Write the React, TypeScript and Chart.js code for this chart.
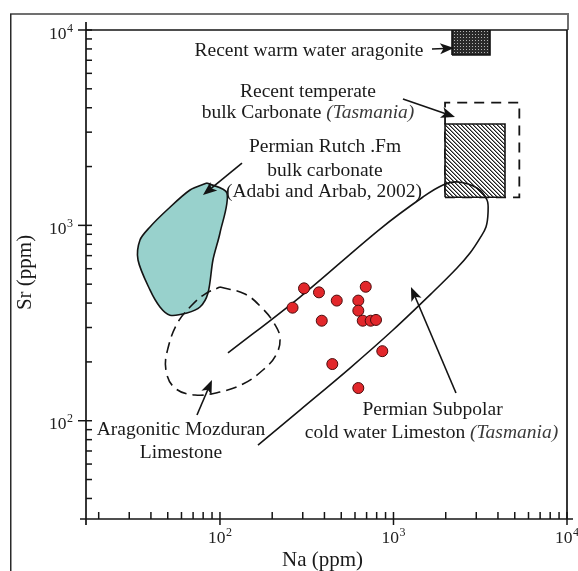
import React, { useEffect, useRef } from "react";
import { Chart, registerables } from "chart.js";

Chart.register(...registerables);

// ---------- axes ----------
const naRange = [16.9, 10000];
const srRange = [31.4, 10000];
const majorValues = [100, 1000, 10000];
const majorExponents = ["2", "3", "4"];
const xTitle = "Na (ppm)";
const yTitle = "Sr (ppm)";

// ---------- samples (red dots) ----------
const sampleNa = [305, 372, 262, 471, 692, 627, 627, 386, 665, 739, 793, 862, 444, 627];
const sampleSr = [476, 454, 379, 412, 485, 412, 366, 325, 325, 325, 328, 227, 195, 147];

// ---------- Permian Rutch Fm bulk carbonate field ----------
const rutchNa = [84.2, 109.7, 100, 91.1, 85.3, 76.7, 64.5, 51.5, 45.1, 39.5, 33.7, 34.6, 39.5, 49.5, 67.2, 84.2];
const rutchSr = [1648, 1465, 914, 665, 451, 382, 356, 347, 382, 467, 665, 841, 981, 1198, 1517, 1648];

// ---------- Aragonitic Mozduran Limestone field ----------
const mozNa = [100, 139.4, 174.7, 204.8, 221.8, 210.3, 176.9, 135.7, 100, 71.8, 55.0, 48.8, 50.2, 57.3, 69.0, 81.9, 100];
const mozSr = [483.5, 445, 377.5, 316.3, 265, 217, 181.8, 154.1, 140.3, 135.4, 147, 181.8, 235.6, 320, 391, 445, 483.5];

// ---------- Permian Subpolar cold water limestone (Tasmania) field ----------
const tasNa = [111.2, 289.1, 836.1, 1479, 1929, 2353, 3029, 3459, 3506, 3413, 3152, 2761, 2323, 1689, 993.6, 561.5, 289.1, 165.6];
const tasSr = [222.2, 429.8, 957.9, 1397, 1609, 1667, 1553, 1348, 1157, 981, 861, 722, 605, 456, 291.3, 186.1, 113.4, 75.1];

// ---------- boxes ----------
const warmBoxNa = [2174, 3600];
const warmBoxSr = [7447, 10000];
const hatchBoxNa = [1982, 4392];
const hatchBoxSr = [1392, 3303];
const dashBoxNa = [1982, 5312];
const dashBoxSr = [1392, 4244];

// ---------- annotation texts (anchor: centre x, baseline) ----------
const noteTexts = [
  [{ t: "Recent warm water aragonite", i: false }],
  [{ t: "Recent temperate", i: false }],
  [{ t: "bulk Carbonate ", i: false }, { t: "(Tasmania)", i: true }],
  [{ t: "Permian Rutch .Fm", i: false }],
  [{ t: "bulk carbonate", i: false }],
  [{ t: "(Adabi and Arbab, 2002)", i: false }],
  [{ t: "Aragonitic Mozduran", i: false }],
  [{ t: "Limestone", i: false }],
  [{ t: "Permian Subpolar", i: false }],
  [{ t: "cold water Limeston ", i: false }, { t: "(Tasmania)", i: true }],
];
const noteNa = [325.8, 321.5, 321.5, 402.9, 402.9, 397.6, 59.6, 59.6, 1679, 1656];
const noteSr = [7362, 4557, 3532, 2382, 1796, 1397, 84.5, 64.2, 107, 81.3];

// ---------- arrows ----------
const arrowFromNa = [1667, 1134, 133.9, 73.7, 2292];
const arrowFromSr = [7992, 4435, 2085, 107, 138.6];
const arrowToNa = [2233, 2262, 79.8, 89.9, 1261];
const arrowToSr = [8088, 3585, 1430, 161.6, 483.5];

const SERIF = "'Liberation Serif', 'Times New Roman', serif";
const INK = "#141414";

const xy = (xs: number[], ys: number[]) => xs.map((x, i) => ({ x, y: ys[i] }));
const rect = (xs: number[], ys: number[]) => [
  { x: xs[0], y: ys[0] },
  { x: xs[1], y: ys[0] },
  { x: xs[1], y: ys[1] },
  { x: xs[0], y: ys[1] },
  { x: xs[0], y: ys[0] },
];

function logTicks(min: number, max: number) {
  const out: { v: number; major: boolean }[] = [];
  for (let e = Math.floor(Math.log10(min)); e <= Math.ceil(Math.log10(max)); e++) {
    for (let m = 1; m <= 9; m++) {
      const v = m * Math.pow(10, e);
      if (v >= min * 0.999 && v <= max * 1.001) out.push({ v, major: m === 1 });
    }
  }
  return out;
}

function makeHatch() {
  const c = document.createElement("canvas");
  c.width = 4;
  c.height = 4;
  const g = c.getContext("2d")!;
  g.fillStyle = "#ffffff";
  g.fillRect(0, 0, 4, 4);
  for (let i = 0; i < 4; i++)
    for (let j = 0; j < 4; j++) {
      const d = (((i - j) % 4) + 4) % 4;
      if (d === 0) {
        g.fillStyle = "#1e1e1e";
        g.fillRect(i, j, 1, 1);
      } else if (d === 1) {
        g.fillStyle = "#8c8c8c";
        g.fillRect(i, j, 1, 1);
      }
    }
  return g.createPattern(c, "repeat");
}

function makeDots() {
  const c = document.createElement("canvas");
  c.width = 3;
  c.height = 3;
  const g = c.getContext("2d")!;
  g.fillStyle = "#2a2a2a";
  g.fillRect(0, 0, 3, 3);
  g.fillStyle = "#b5b5b5";
  g.fillRect(1, 1, 1, 1);
  return g.createPattern(c, "repeat");
}

const decorPlugin = {
  id: "decor",
  beforeDatasetsDraw(chart: any) {
    const ctx: CanvasRenderingContext2D = chart.ctx;
    const { left, right, top, bottom } = chart.chartArea;
    const xs = chart.scales.x;
    const ys = chart.scales.y;
    ctx.save();
    // outer frame
    ctx.strokeStyle = "#707070";
    ctx.lineWidth = 2;
    ctx.beginPath();
    ctx.moveTo(10, 14);
    ctx.lineTo(right + 1, 14);
    ctx.lineTo(right + 1, top);
    ctx.stroke();
    ctx.strokeStyle = "#2a2a2a";
    ctx.lineWidth = 1.5;
    ctx.beginPath();
    ctx.moveTo(10.75, 14);
    ctx.lineTo(10.75, 571);
    ctx.stroke();

    // plot box
    ctx.strokeStyle = INK;
    ctx.lineWidth = 1.7;
    ctx.beginPath();
    ctx.moveTo(left, top);
    ctx.lineTo(right, top);
    ctx.lineTo(right, bottom);
    ctx.stroke();
    ctx.beginPath();
    ctx.moveTo(left, top - 8);
    ctx.lineTo(left, bottom + 6);
    ctx.stroke();
    ctx.beginPath();
    ctx.moveTo(left - 6, bottom);
    ctx.lineTo(right + 6, bottom);
    ctx.stroke();

    // ticks
    ctx.lineWidth = 1.5;
    for (const t of logTicks(naRange[0], naRange[1])) {
      const px = xs.getPixelForValue(t.v);
      ctx.beginPath();
      ctx.moveTo(px, bottom + (t.major ? 6 : 0));
      ctx.lineTo(px, bottom - 7);
      ctx.stroke();
    }
    for (const t of logTicks(srRange[0], srRange[1])) {
      const py = ys.getPixelForValue(t.v);
      ctx.beginPath();
      ctx.moveTo(left - (t.major ? 8 : 0), py);
      ctx.lineTo(left + 6, py);
      ctx.stroke();
    }

    // tick labels
    ctx.fillStyle = "#222";
    ctx.textBaseline = "alphabetic";
    ctx.textAlign = "left";
    const bigF = `17.5px ${SERIF}`;
    const supF = `12px ${SERIF}`;
    majorValues.forEach((v, i) => {
      ctx.font = bigF;
      const w10 = ctx.measureText("10").width;
      ctx.font = supF;
      const wE = ctx.measureText(majorExponents[i]).width;
      // x axis
      const px = xs.getPixelForValue(v);
      const lx = px - 12;
      ctx.font = bigF;
      ctx.fillText("10", lx, bottom + 24);
      ctx.font = supF;
      ctx.fillText(majorExponents[i], lx + w10 + 0.5, bottom + 17);
      // y axis
      const py = ys.getPixelForValue(v);
      const ly = left - 13 - (w10 + wE + 0.5);
      ctx.font = bigF;
      ctx.fillText("10", ly, py + 8.5);
      ctx.font = supF;
      ctx.fillText(majorExponents[i], ly + w10 + 0.5, py + 1.5);
    });

    // axis titles
    ctx.font = `21px ${SERIF}`;
    ctx.fillStyle = "#1a1a1a";
    ctx.textAlign = "center";
    ctx.fillText(xTitle, (left + right) / 2 - 4, 566);
    ctx.save();
    ctx.translate(31, (top + bottom) / 2 - 2);
    ctx.rotate(-Math.PI / 2);
    ctx.fillText(yTitle, 0, 0);
    ctx.restore();
    ctx.restore();
  },
  afterDatasetsDraw(chart: any) {
    const ctx: CanvasRenderingContext2D = chart.ctx;
    const xs = chart.scales.x;
    const ys = chart.scales.y;
    ctx.save();
    // texts
    ctx.fillStyle = "#1a1a1a";
    ctx.textBaseline = "alphabetic";
    ctx.textAlign = "left";
    const fN = `19.5px ${SERIF}`;
    const fI = `italic 19.5px ${SERIF}`;
    noteTexts.forEach((parts, k) => {
      let total = 0;
      const widths = parts.map((p) => {
        ctx.font = p.i ? fI : fN;
        const w = ctx.measureText(p.t).width;
        total += w;
        return w;
      });
      let x = xs.getPixelForValue(noteNa[k]) - total / 2;
      const y = ys.getPixelForValue(noteSr[k]);
      parts.forEach((p, j) => {
        ctx.font = p.i ? fI : fN;
        ctx.fillStyle = p.i ? "#3a3a3a" : "#1a1a1a";
        ctx.fillText(p.t, x, y);
        x += widths[j];
      });
    });
    // arrows
    ctx.strokeStyle = INK;
    ctx.fillStyle = INK;
    ctx.lineWidth = 1.6;
    arrowFromNa.forEach((_, k) => {
      const x0 = xs.getPixelForValue(arrowFromNa[k]);
      const y0 = ys.getPixelForValue(arrowFromSr[k]);
      const x1 = xs.getPixelForValue(arrowToNa[k]);
      const y1 = ys.getPixelForValue(arrowToSr[k]);
      const a = Math.atan2(y1 - y0, x1 - x0);
      const L = 14;
      const W = 5.5;
      const bx = x1 - L * Math.cos(a);
      const by = y1 - L * Math.sin(a);
      ctx.beginPath();
      ctx.moveTo(x0, y0);
      ctx.lineTo(x1 - L * 0.7 * Math.cos(a), y1 - L * 0.7 * Math.sin(a));
      ctx.stroke();
      ctx.beginPath();
      ctx.moveTo(x1, y1);
      ctx.lineTo(bx - W * Math.sin(a), by + W * Math.cos(a));
      ctx.lineTo(bx + L * 0.25 * Math.cos(a), by + L * 0.25 * Math.sin(a));
      ctx.lineTo(bx + W * Math.sin(a), by - W * Math.cos(a));
      ctx.closePath();
      ctx.fill();
    });
    ctx.restore();
  },
};

export default function App() {
  const ref = useRef<HTMLCanvasElement>(null);
  useEffect(() => {
    const canvas = ref.current;
    if (!canvas) return;
    const hatch = makeHatch();
    const dots = makeDots();
    const line = { showLine: true, pointRadius: 0, pointHoverRadius: 0, borderColor: INK };
    const chart = new Chart(canvas, {
      type: "scatter",
      data: {
        datasets: [
          {
            label: "samples",
            data: xy(sampleNa, sampleSr),
            showLine: false,
            pointRadius: 5.5,
            pointHoverRadius: 5.5,
            backgroundColor: "#e2272b",
            borderColor: "#4a0b0b",
            borderWidth: 1,
            order: 0,
          },
          {
            label: "Permian Subpolar",
            data: xy(tasNa, tasSr),
            ...line,
            tension: 0.35,
            borderWidth: 1.6,
            fill: false,
            order: 1,
          },
          {
            label: "Recent temperate",
            data: rect(hatchBoxNa, hatchBoxSr),
            ...line,
            tension: 0,
            borderWidth: 1.6,
            fill: "shape",
            backgroundColor: hatch,
            order: 2,
          },
          {
            label: "Recent warm",
            data: rect(warmBoxNa, warmBoxSr),
            ...line,
            tension: 0,
            borderWidth: 1.6,
            fill: "shape",
            backgroundColor: dots,
            order: 2,
          },
          {
            label: "temperate range",
            data: rect(dashBoxNa, dashBoxSr),
            ...line,
            tension: 0,
            borderWidth: 1.8,
            borderDash: [10, 7],
            fill: false,
            order: 3,
          },
          {
            label: "Mozduran",
            data: xy(mozNa, mozSr),
            ...line,
            tension: 0.4,
            borderWidth: 1.6,
            borderDash: [11, 6],
            fill: false,
            order: 4,
          },
          {
            label: "Rutch",
            data: xy(rutchNa, rutchSr),
            ...line,
            tension: 0.3,
            borderWidth: 1.6,
            fill: "shape",
            backgroundColor: "#98d1cc",
            order: 5,
          },
        ] as any,
      },
      options: {
        responsive: false,
        animation: false,
        devicePixelRatio: 1,
        events: [],
        layout: { padding: { left: 86, top: 30, right: 11, bottom: 52 } },
        scales: {
          x: { type: "logarithmic", min: naRange[0], max: naRange[1], display: false },
          y: { type: "logarithmic", min: srRange[0], max: srRange[1], display: false },
        },
        plugins: {
          legend: { display: false },
          tooltip: { enabled: false },
        },
      } as any,
      plugins: [decorPlugin],
    });
    return () => chart.destroy();
  }, []);
  return (
    <div style={{ position: "absolute", left: 0, top: 0, width: 578, height: 571, background: "#fff" }}>
      <canvas ref={ref} width={578} height={571} style={{ width: 578, height: 571, display: "block" }} />
    </div>
  );
}
